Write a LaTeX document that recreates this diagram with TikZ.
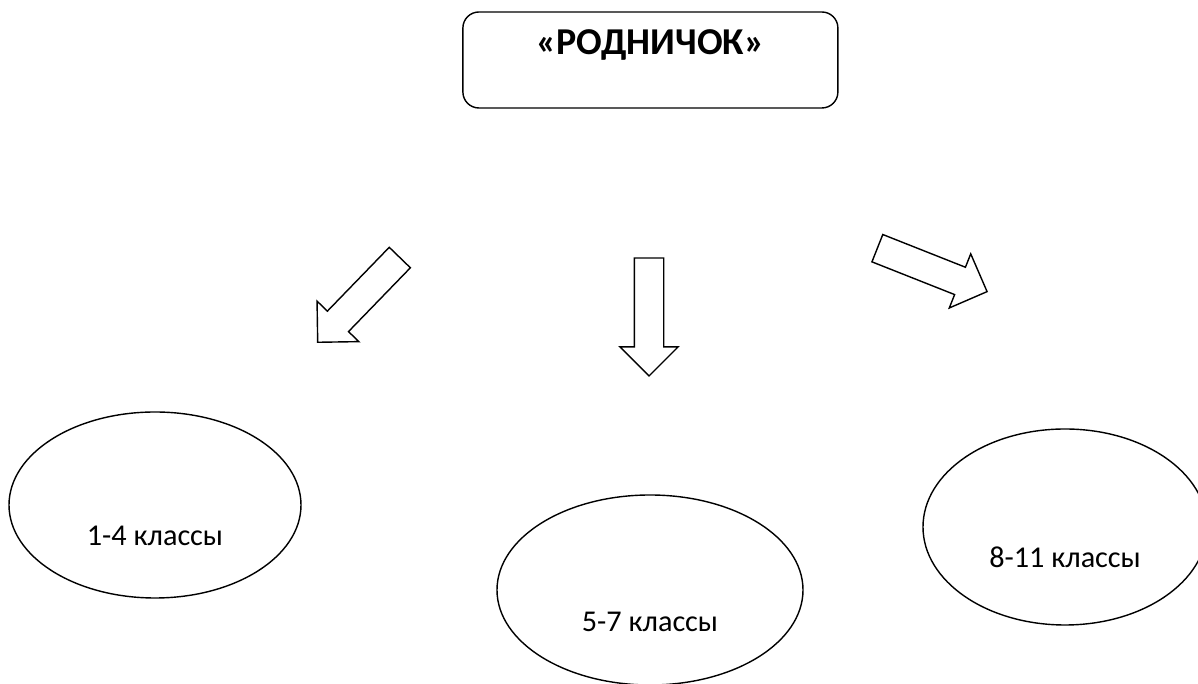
\documentclass[tikz,border=0pt]{standalone}
\usepackage{fontspec}
\setmainfont{Carlito}
\usepackage{tikz}
\usetikzlibrary{shapes.geometric,shapes.arrows,positioning}
\tikzset{
    title-box/.style={
        rectangle,
        rounded corners=0.4cm,
        draw=black,
        line width=1pt,
        minimum width=9.375cm,
        minimum height=2.4cm,
        font=\fontsize{27}{32}\selectfont\bfseries,
        text height=0.7cm,
        text depth=0.95cm,
    },
    group/.style={
        ellipse,
        draw=black,
        line width=1pt,
        inner sep=0pt,
    },
    flow/.style={
        single arrow,
        draw=black,
        line width=1pt,
        inner sep=0pt,
        text height=0.7cm,
        text depth=0pt,
        minimum width=1.42cm,
        minimum height=2.95cm,
        single arrow head extend=0.36cm,
        anchor=tip,
    },
    every label/.style={
        font=\fontsize{21.5}{26}\selectfont,
    },
}

\begin{document}
\begin{tikzpicture}
    \useasboundingbox (0,0) rectangle (29.95,17.1);
    \node [title-box] at (16.26,15.6) (top) {«РОДНИЧОК»};
    \node [group, minimum width=7.3cm, minimum height=4.65cm,
           label={[yshift=-0.78cm]center:1-4 классы}] at (3.875,4.475) (low) {};
    \node [group, minimum width=7.65cm, minimum height=4.75cm,
           label={[yshift=-0.8cm]center:5-7 классы}] at (16.25,2.35) (mid) {};
    \node [group, minimum width=7.1cm, minimum height=4.9cm,
           label={[yshift=-0.76cm]center:8-11 классы}] at (26.625,3.925) (high) {};
    \node [flow, rotate=225.9] at (7.925,8.525) (to-low) {};
    \node [flow, rotate=270] at (16.225,7.675) (to-mid) {};
    \node [flow, rotate=-21.6] at (24.7,9.8) (to-high) {};
\end{tikzpicture}
\end{document}
